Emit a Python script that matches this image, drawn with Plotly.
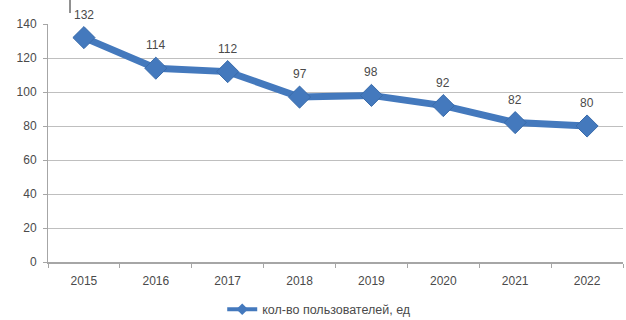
import plotly.graph_objects as go

years = ["2015", "2016", "2017", "2018", "2019", "2020", "2021", "2022"]
users = [132, 114, 112, 97, 98, 92, 82, 80]
series_name = "кол-во пользователей, ед"
y_ticks = [0, 20, 40, 60, 80, 100, 120, 140]

blue = "#4479bd"
txt = "#4a4a4a"

xpos = list(range(len(years)))

fig = go.Figure()
fig.add_trace(go.Scatter(
    x=xpos, y=users, mode="lines+markers", name=series_name, showlegend=False,
    line=dict(color=blue, width=7),
    marker=dict(symbol="diamond", size=17, color=blue,
                line=dict(color="#3a6cab", width=1)),
    cliponaxis=False,
))
# legend entry (smaller symbol, as in the source legend)
fig.add_trace(go.Scatter(
    x=[None], y=[None], mode="lines+markers", name=series_name,
    line=dict(color=blue, width=4),
    marker=dict(symbol="diamond", size=9, color=blue),
))

for x, v in zip(xpos, users):
    fig.add_annotation(x=x, y=v, text=str(v), showarrow=False, yshift=23,
                       font=dict(size=12, color=txt))

# stray mark at top-left of the source image
fig.add_shape(type="line", xref="paper", yref="paper",
              x0=22 / 575, x1=22 / 575, y0=262 / 238, y1=249 / 238,
              line=dict(color="#222222", width=1))

fig.update_layout(
    width=626, height=320,
    margin=dict(l=48, r=3, t=24, b=58, autoexpand=False),
    paper_bgcolor="white", plot_bgcolor="white",
    font=dict(family="Liberation Sans, Arial, sans-serif", size=12, color=txt),
    showlegend=True,
    legend=dict(orientation="h", x=0.303, xanchor="left", y=-0.2, yanchor="middle",
                font=dict(size=12.5, color=txt),
                bgcolor="rgba(0,0,0,0)"),
    xaxis=dict(range=[-0.5, len(years) - 0.5], tickvals=xpos, ticktext=years,
               showgrid=False, showline=True, zeroline=False,
               linecolor="#a6a6a6", linewidth=1.5, ticks="",
               ticklabelstandoff=7,
               minor=dict(tick0=-0.5, dtick=1, ticks="outside", ticklen=4,
                          tickcolor="#a6a6a6", showgrid=False),
               tickfont=dict(size=12, color=txt), fixedrange=True,
               automargin=False),
    yaxis=dict(range=[0, 140], tickvals=y_ticks, showgrid=True,
               gridcolor="#bfbfbf", gridwidth=1.2, showline=True,
               linecolor="#a6a6a6", linewidth=1, ticks="outside",
               ticklen=4, tickcolor="#a6a6a6", zeroline=False,
               ticklabelstandoff=4,
               tickfont=dict(size=12, color=txt), fixedrange=True,
               automargin=False),
)

fig.write_html("out.html", config={"displayModeBar": False},
               post_script="document.body.style.margin='0';document.body.style.padding='0';")
